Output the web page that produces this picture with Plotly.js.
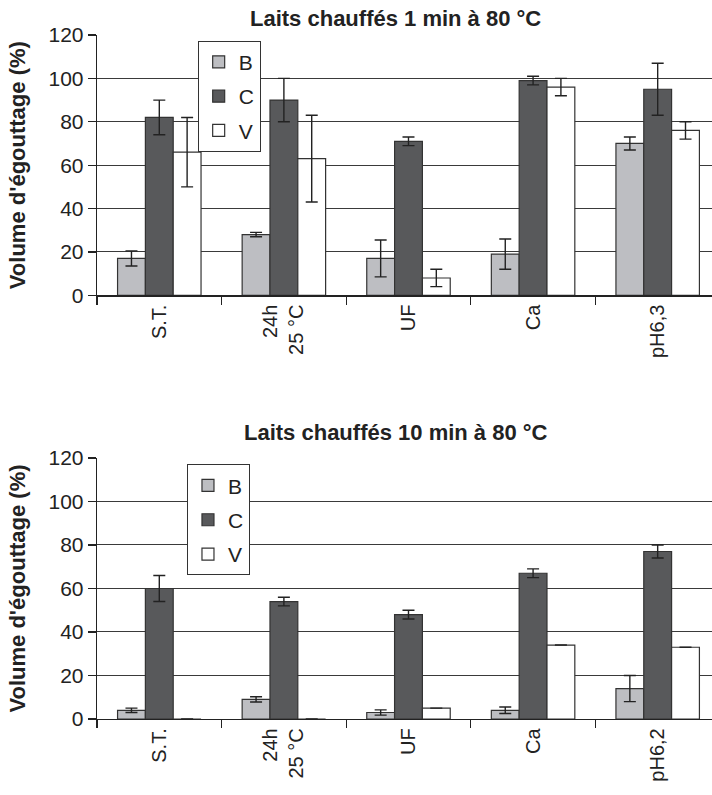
<!DOCTYPE html>
<html><head><meta charset="utf-8">
<script src="https://cdn.plot.ly/plotly-3.0.1.min.js"></script>
<style>html,body{margin:0;padding:0;background:#fff}</style>
</head><body>
<div id="chart" style="width:712px;height:795px"></div>
<script>
// Top chart: milk heated 1 min at 80 °C
const catsTop = ["S.T.", "24h<br>25 °C", "UF", "Ca", "pH6,3"];
const topB = [17, 28, 17, 19, 70];
const topBerr = [3.5, 1, 8.5, 7, 3];
const topC = [82, 90, 71, 99, 95];
const topCerr = [8, 10, 2, 2, 12];
const topV = [66, 63, 8, 96, 76];
const topVerr = [16, 20, 4, 4, 4];

// Bottom chart: milk heated 10 min at 80 °C
const catsBot = ["S.T.", "24h<br>25 °C", "UF", "Ca", "pH6,2"];
const botB = [4, 9, 3, 4, 14];
const botBerr = [1, 1.2, 1.2, 1.5, 6];
const botC = [60, 54, 48, 67, 77];
const botCerr = [6, 2, 2, 2, 3];
const botV = [0, 0, 5, 34, 33];
const botVerr = [0, 0, 0, 0, 0];

const seriesNames = ["B", "C", "V"];
const colors = ["#bdbec2", "#58595b", "#ffffff"];
const FONT = "Liberation Sans, Arial, Helvetica, sans-serif";

function mk(name, cats, vals, errs, color, xa, ya, leg, show) {
  return {
    type: "bar", name: name, x: cats, y: vals, xaxis: xa, yaxis: ya,
    legend: leg, legendgroup: name + leg, showlegend: show,
    marker: {color: color, line: {color: "#333333", width: 1.2}},
    error_y: {type: "data", array: errs, visible: true, color: "#222222", thickness: 1.4, width: 6},
    hoverinfo: "x+y"
  };
}

const data = [
  mk(seriesNames[0], catsTop, topB, topBerr, colors[0], "x", "y", "legend", true),
  mk(seriesNames[1], catsTop, topC, topCerr, colors[1], "x", "y", "legend", true),
  mk(seriesNames[2], catsTop, topV, topVerr, colors[2], "x", "y", "legend", true),
  mk(seriesNames[0], catsBot, botB, botBerr, colors[0], "x2", "y2", "legend2", true),
  mk(seriesNames[1], catsBot, botC, botCerr, colors[1], "x2", "y2", "legend2", true),
  mk(seriesNames[2], catsBot, botV, botVerr, colors[2], "x2", "y2", "legend2", true)
];

const xr = [-0.5, 4.436];
const boundaries = [-0.5, 0.5, 1.5, 2.5, 3.5];

function xcat(anchor, cats) {
  return {
    type: "category", categoryarray: cats, categoryorder: "array",
    range: xr, anchor: anchor, domain: [0, 1],
    showline: true, linecolor: "#222222", linewidth: 1.3,
    ticks: "outside", tickson: "boundaries", ticklen: 8, tickwidth: 1.2, tickcolor: "#222222",
    tickangle: -90, tickfont: {family: FONT, size: 20, color: "#222222"},
    showgrid: false, zeroline: false, fixedrange: true
  };
}
function xin(anchor, over) {
  return {
    type: "linear", range: xr, anchor: anchor, overlaying: over,
    tickmode: "array", tickvals: boundaries, ticks: "inside", ticklen: 8, tickwidth: 1.2,
    tickcolor: "#222222", showticklabels: false, showgrid: false, zeroline: false, showline: false
  };
}
function yax(domain, anchor) {
  return {
    domain: domain, anchor: anchor, range: [0, 120], tickmode: "linear", tick0: 0, dtick: 20,
    showline: true, linecolor: "#222222", linewidth: 1.3,
    ticks: "outside", ticklen: 8, tickwidth: 1.2, tickcolor: "#222222",
    tickfont: {family: FONT, size: 21, color: "#222222"},
    showgrid: true, gridcolor: "#3a3a3a", gridwidth: 1, zeroline: false,
    title: {text: "Volume d'égouttage (%)", font: {family: FONT, size: 22, color: "#222222", weight: "bold"}, standoff: 16},
    fixedrange: true
  };
}

const legendBase = {
  bgcolor: "#ffffff", bordercolor: "#333333", borderwidth: 1,
  font: {family: FONT, size: 21, color: "#222222"},
  traceorder: "grouped", tracegroupgap: 4, xanchor: "left", yanchor: "top",
  itemwidth: 30
};

const layout = {
  width: 712, height: 795,
  margin: {l: 97, r: 0, t: 35, b: 76},
  paper_bgcolor: "#ffffff", plot_bgcolor: "#ffffff",
  barmode: "group", bargap: 0.33, bargroupgap: 0,
  showlegend: true,
  xaxis: xcat("y", catsTop),
  xaxis2: xcat("y2", catsBot),
  xaxis3: xin("y", "x"),
  xaxis4: xin("y2", "x2"),
  yaxis: yax([0.6194, 1], "x"),
  yaxis2: yax([0, 0.3816], "x2"),
  legend: Object.assign({}, legendBase, {x: 0.1637, y: 0.9917}),
  legend2: Object.assign({}, legendBase, {x: 0.1463, y: 0.3724}),
  annotations: [
    {text: "Laits chauffés 1 min à 80 °C", xref: "paper", yref: "paper", x: 0.486, y: 1.0234,
     xanchor: "center", yanchor: "middle", showarrow: false,
     font: {family: FONT, size: 22, color: "#222222", weight: "bold"}},
    {text: "Laits chauffés 10 min à 80 °C", xref: "paper", yref: "paper", x: 0.486, y: 0.4186,
     xanchor: "center", yanchor: "middle", showarrow: false,
     font: {family: FONT, size: 22, color: "#222222", weight: "bold"}}
  ]
};

Plotly.newPlot("chart", data, layout, {staticPlot: true, displayModeBar: false});
</script>
</body></html>
